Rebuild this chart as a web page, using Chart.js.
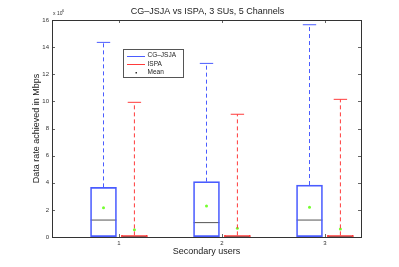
<!DOCTYPE html>
<html>
<head>
<meta charset="utf-8">
<script src="https://cdn.jsdelivr.net/npm/chart.js@4.4.1/dist/chart.umd.min.js"></script>
<style>
  html, body { margin: 0; padding: 0; background: #fff; }
</style>
</head>
<body>
<canvas id="myChart" width="399" height="267"></canvas>
<script>
// values are in units of 10^6 (Mbps)
const users = [1, 2, 3];
const xTickLabels = ['1', '2', '3'];
const yTicks = [0, 2, 4, 6, 8, 10, 12, 14, 16];
const seriesNames = ['CG–JSJA', 'ISPA', 'Mean'];
const chartTitle = 'CG–JSJA vs ISPA, 3 SUs, 5 Channels';

const cgLow = [0, 0, 0];
const cgQ1 = [0.03, 0.03, 0.03];
const cgMedian = [1.25, 1.06, 1.25];
const cgQ3 = [3.66, 4.08, 3.83];
const cgHigh = [14.35, 12.8, 15.65];
const cgMean = [2.16, 2.29, 2.19];

const ispaLow = [0, 0, 0];
const ispaQ1 = [0, 0, 0];
const ispaMedian = [0.03, 0.03, 0.03];
const ispaQ3 = [0.12, 0.12, 0.12];
const ispaHigh = [9.93, 9.05, 10.15];
const ispaMean = [0.54, 0.64, 0.59];

const BLUE = '#4a5cff';
const RED = '#ff3b3b';
const GREEN = '#74ff2e';
const FONT = 'Liberation Sans, Arial, sans-serif';

// box positions around each user (in x units)
const shift = 0.15;
const boxHalf = 0.125;
const capHalf = 0.065;

// list of segments -> points with a gap after each one
function segs(list) {
    const pts = [];
    list.forEach(s => {
        pts.push({x: s[0], y: s[1]}, {x: s[2], y: s[3]}, {x: s[2], y: null});
    });
    return pts;
}

function boxDatasets(label, color, dx, low, q1, med, q3, high) {
    const xs = users.map(u => u + dx);
    return [
        {
            type: 'bar', label: label,
            data: xs.map((x, i) => ({x: x, y: [q1[i], q3[i]]})),
            barThickness: 26, grouped: false,
            borderColor: color, borderWidth: 1, borderSkipped: false,
            backgroundColor: 'rgba(0,0,0,0)'
        },
        {
            type: 'line', data: segs(xs.map((x, i) => [x, q3[i], x, high[i]]).concat(xs.map((x, i) => [x, low[i], x, q1[i]]))),
            borderColor: color, borderWidth: 1, borderDash: [4, 3], pointRadius: 0, spanGaps: false
        },
        {
            type: 'line', data: segs(xs.map((x, i) => [x - capHalf, high[i], x + capHalf, high[i]])),
            borderColor: color, borderWidth: 1, pointRadius: 0, spanGaps: false
        },
        {
            type: 'line', data: segs(xs.map((x, i) => [x - boxHalf, med[i], x + boxHalf, med[i]])),
            borderColor: '#555', borderWidth: 1, pointRadius: 0, spanGaps: false
        }
    ];
}

const datasets = []
    .concat(boxDatasets(seriesNames[0], BLUE, -shift, cgLow, cgQ1, cgMedian, cgQ3, cgHigh))
    .concat(boxDatasets(seriesNames[1], RED, shift, ispaLow, ispaQ1, ispaMedian, ispaQ3, ispaHigh));

datasets.push({
    type: 'scatter', label: seriesNames[2],
    data: users.map((u, i) => ({x: u - shift, y: cgMean[i]}))
        .concat(users.map((u, i) => ({x: u + shift, y: ispaMean[i]}))),
    pointRadius: 1.5, pointBackgroundColor: GREEN, pointBorderWidth: 0, showLine: false
});

// title over the plot box, frame, inward ticks, exponent and legend
const decorPlugin = {
    id: 'decor',
    afterDraw(chart) {
        const ctx = chart.ctx;
        const a = chart.chartArea;
        const xs = chart.scales.x, ys = chart.scales.y;
        ctx.save();

        ctx.fillStyle = '#222';
        ctx.font = '9px ' + FONT;
        ctx.textAlign = 'center';
        ctx.textBaseline = 'middle';
        ctx.fillText(chartTitle, (a.left + a.right) / 2 + 1, 11.5);
        ctx.textAlign = 'left';

        ctx.strokeStyle = '#666';
        ctx.lineWidth = 1;
        ctx.beginPath();
        users.forEach(u => {
            const px = Math.round(xs.getPixelForValue(u)) + 0.5;
            ctx.moveTo(px, a.bottom); ctx.lineTo(px, a.bottom - 3);
            ctx.moveTo(px, a.top); ctx.lineTo(px, a.top + 3);
        });
        yTicks.forEach(v => {
            const py = Math.round(ys.getPixelForValue(v)) + 0.5;
            ctx.moveTo(a.left, py); ctx.lineTo(a.left + 3, py);
            ctx.moveTo(a.right, py); ctx.lineTo(a.right - 3, py);
        });
        ctx.stroke();
        ctx.strokeStyle = '#333';
        ctx.strokeRect(Math.round(a.left) + 0.5, Math.round(a.top) + 0.5,
            Math.round(a.right - a.left), Math.round(a.bottom - a.top));

        // exponent
        ctx.fillStyle = '#333';
        ctx.textBaseline = 'alphabetic';
        ctx.font = '5px ' + FONT;
        ctx.fillText('x 10', a.left + 1, a.top - 5);
        ctx.font = '4px ' + FONT;
        ctx.fillText('6', a.left + 10, a.top - 8);

        // legend
        const lx = a.left + 71, ly = a.top + 29, lw = 60, lh = 28;
        ctx.fillStyle = '#fff';
        ctx.fillRect(lx, ly, lw, lh);
        ctx.strokeStyle = '#555';
        ctx.strokeRect(lx + 0.5, ly + 0.5, lw, lh);
        ctx.font = '6.5px ' + FONT;
        ctx.textBaseline = 'middle';
        const colors = [BLUE, RED];
        seriesNames.forEach((name, i) => {
            const yy = ly + 6.5 + i * 8.5;
            if (i < 2) {
                ctx.strokeStyle = colors[i];
                ctx.beginPath();
                ctx.moveTo(lx + 4, Math.round(yy) + 0.5);
                ctx.lineTo(lx + 22, Math.round(yy) + 0.5);
                ctx.stroke();
            } else {
                ctx.fillStyle = '#333';
                ctx.fillRect(lx + 12.5, yy - 0.5, 1.5, 1.5);
            }
            ctx.fillStyle = '#222';
            ctx.fillText(name, lx + 24.5, yy);
        });
        ctx.restore();
    }
};

const ctx = document.getElementById('myChart').getContext('2d');
const chart = new Chart(ctx, {
    type: 'line',
    data: {datasets: datasets},
    plugins: [decorPlugin],
    options: {
        responsive: false,
        animation: false,
        layout: {padding: {left: 0, right: 38, top: 20, bottom: 0}},
        plugins: {
            legend: {display: false},
            tooltip: {enabled: false},
            title: {display: false}
        },
        scales: {
            x: {
                type: 'linear', min: 0.35, max: 3.35, offset: false,
                grid: {display: false, drawTicks: false},
                border: {display: false},
                afterBuildTicks: s => { s.ticks = users.map(v => ({value: v})); },
                afterFit: s => { s.height = 30; },
                ticks: {
                    color: '#333', padding: 3, maxRotation: 0,
                    font: {family: FONT, size: 6},
                    callback: v => xTickLabels[users.indexOf(v)]
                },
                title: {
                    display: true, text: 'Secondary users', color: '#222',
                    font: {family: FONT, size: 9}, padding: {top: 0, bottom: 10}
                }
            },
            y: {
                type: 'linear', min: 0, max: 16,
                grid: {display: false, drawTicks: false},
                border: {display: false},
                afterBuildTicks: s => { s.ticks = yTicks.map(v => ({value: v})); },
                afterFit: s => { s.width = 52; },
                ticks: {
                    color: '#333', padding: 3,
                    font: {family: FONT, size: 6},
                    callback: v => String(v)
                },
                title: {
                    display: true, text: 'Data rate achieved in Mbps', color: '#222',
                    font: {family: FONT, size: 9}, padding: {top: 31, bottom: 0}
                }
            }
        }
    }
});
</script>
</body>
</html>
